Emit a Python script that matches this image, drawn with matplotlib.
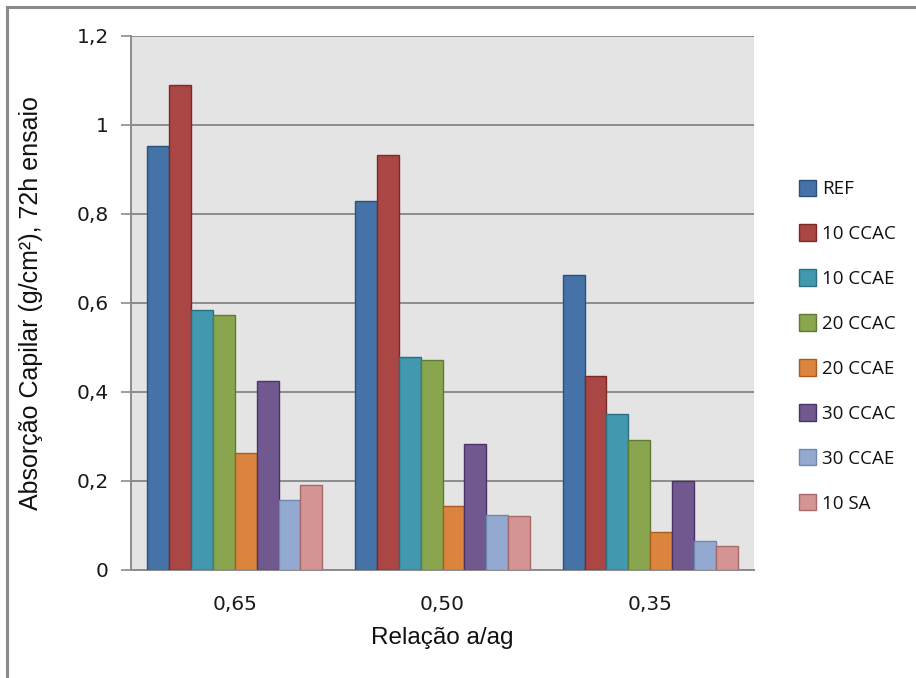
import numpy as np
import matplotlib
matplotlib.use("Agg")
import matplotlib.pyplot as plt
from matplotlib.lines import Line2D

# Water/binder ratio groups and capillary absorption at 72 h (g/cm²)
categories = ["0,65", "0,50", "0,35"]
series_names = ["REF", "10 CCAC", "10 CCAE", "20 CCAC", "20 CCAE", "30 CCAC", "30 CCAE", "10 SA"]
ref = [0.951, 0.829, 0.661]
ccac_10 = [1.089, 0.932, 0.436]
ccae_10 = [0.583, 0.478, 0.349]
ccac_20 = [0.572, 0.472, 0.290]
ccae_20 = [0.263, 0.142, 0.084]
ccac_30 = [0.424, 0.282, 0.200]
ccae_30 = [0.157, 0.122, 0.064]
sa_10 = [0.190, 0.120, 0.052]
yticks = [0, 0.2, 0.4, 0.6, 0.8, 1.0, 1.2]
ytick_labels = ["0", "0,2", "0,4", "0,6", "0,8", "1", "1,2"]

series = [ref, ccac_10, ccae_10, ccac_20, ccae_20, ccac_30, ccae_30, sa_10]
fills = ["#4572a7", "#aa4643", "#4198af", "#89a54e", "#db843d", "#71588f", "#93a9d0", "#d49493"]
edges = ["#2c4f7c", "#7a2a28", "#2a6f82", "#5f7a33", "#a85c20", "#4a3566", "#6f88b3", "#a86a69"]

fig = plt.figure(figsize=(9.16, 6.78), dpi=100)
fig.patch.set_facecolor("white")

# outer chart frame (top and left edges)
fig.add_artist(Line2D([7 / 916, 1.0], [1 - 7 / 678, 1 - 7 / 678], color="#8a8a8a", lw=2.2,
                      transform=fig.transFigure))
fig.add_artist(Line2D([7 / 916, 7 / 916], [0.0, 1 - 7 / 678], color="#8a8a8a", lw=2.2,
                      transform=fig.transFigure))

ax = fig.add_axes([131 / 916, (678 - 569.5) / 678, 623 / 916, (569.5 - 35.7) / 678])
ax.set_facecolor("#e4e4e4")

x = np.arange(len(categories))
n = len(series)
bw = 0.843 / n
for i, (vals, name) in enumerate(zip(series, series_names)):
    ax.bar(x + (i - (n - 1) / 2) * bw, vals, width=bw, color=fills[i], edgecolor=edges[i],
           linewidth=1.0, label=name, zorder=3)

ax.set_xlim(-0.5, len(categories) - 0.5)
ax.set_ylim(0, 1.2)
ax.set_yticks(yticks)
ax.set_yticklabels(ytick_labels, family="DejaVu Sans", fontsize=14.5, color="#1a1a1a")
ax.set_xticks(x)
ax.set_xticklabels(categories, family="DejaVu Sans", fontsize=14.5, color="#1a1a1a")
ax.yaxis.grid(True, color="#8c8c8c", linewidth=1.4, zorder=1)
ax.set_axisbelow(True)
ax.tick_params(axis="y", length=7, width=1.2, color="#8c8c8c", pad=9)
ax.tick_params(axis="x", length=0, pad=18)

for side in ["top", "right"]:
    ax.spines[side].set_visible(False)
ax.spines["left"].set_color("#8c8c8c")
ax.spines["left"].set_linewidth(1.4)
ax.spines["bottom"].set_color("#8c8c8c")
ax.spines["bottom"].set_linewidth(1.4)

ax.set_ylabel("Absorção Capilar (g/cm²), 72h ensaio", family="Liberation Sans", fontsize=18,
              color="#111111", labelpad=24)
ax.set_xlabel("Relação a/ag", family="Liberation Sans", fontsize=17.5, color="#111111", labelpad=10)

leg = fig.legend(loc="upper left", bbox_to_anchor=(791 / 916, 1 - 172 / 678), frameon=False,
                 prop={"family": "Open Sans", "size": 13.5}, handlelength=0.95, handleheight=0.95,
                 handletextpad=0.3, labelspacing=1.41, borderaxespad=0)
for t in leg.get_texts():
    t.set_color("#111111")

fig.savefig("out.png", dpi=100, facecolor=fig.get_facecolor())
